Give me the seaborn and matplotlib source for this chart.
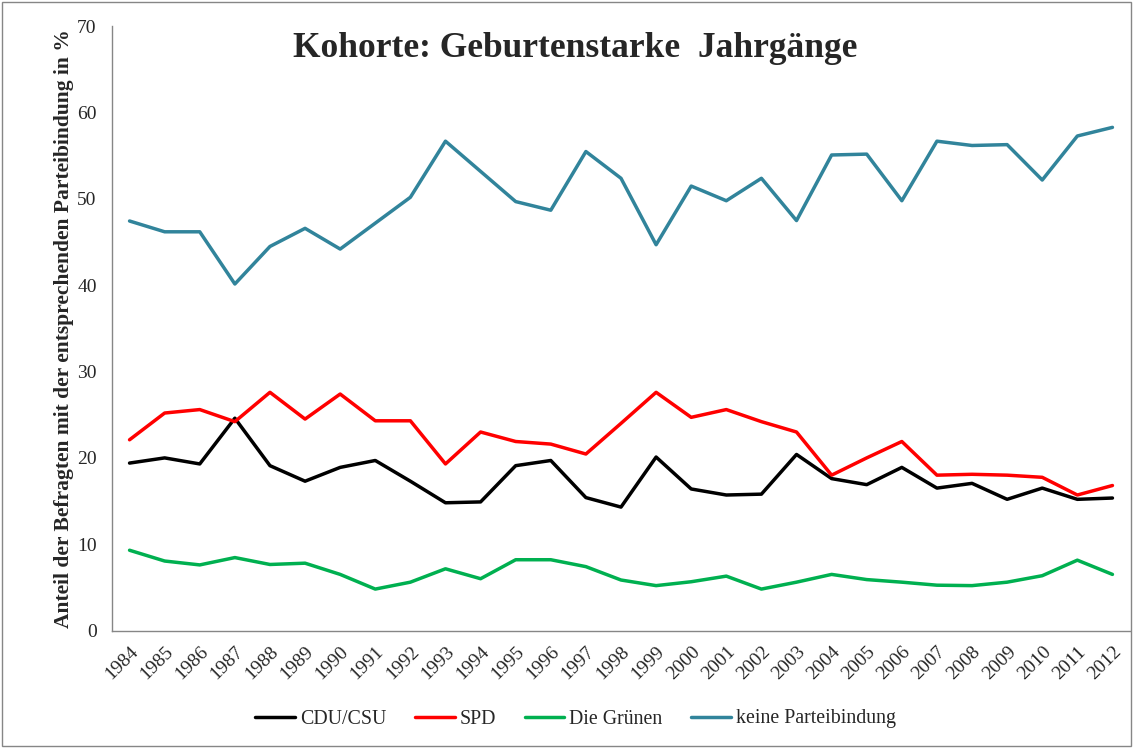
import numpy as np
import pandas as pd
import seaborn as sns
import matplotlib.pyplot as plt
from matplotlib.patches import Rectangle

# data
years = list(range(1984, 2013))
cdu = [19.4, 20.0, 19.3, 24.6, 19.1, 17.3, 18.9, 19.7, 17.3, 14.8, 14.9, 19.1, 19.7, 15.4,
       14.3, 20.1, 16.4, 15.7, 15.8, 20.4, 17.6, 16.9, 18.9, 16.5, 17.05, 15.2, 16.5, 15.2, 15.35]
spd = [22.1, 25.2, 25.6, 24.2, 27.6, 24.5, 27.4, 24.3, 24.3, 19.3, 23.0, 21.9, 21.6, 20.45,
       24.0, 27.6, 24.7, 25.6, 24.2, 23.0, 18.0, 20.0, 21.9, 18.0, 18.1, 18.0, 17.75, 15.7, 16.8]
gruene = [9.3, 8.05, 7.6, 8.45, 7.65, 7.8, 6.5, 4.8, 5.6, 7.15, 6.0, 8.2, 8.2, 7.4,
          5.85, 5.2, 5.65, 6.3, 4.8, 5.6, 6.5, 5.9, 5.6, 5.25, 5.2, 5.6, 6.35, 8.15, 6.5]
keine = [47.45, 46.2, 46.2, 40.15, 44.5, 46.6, 44.2, 47.2, 50.2, 56.7, 53.2, 49.7, 48.7, 55.5,
         52.4, 44.7, 51.5, 49.8, 52.4, 47.5, 55.1, 55.2, 49.8, 56.7, 56.2, 56.3, 52.2, 57.3, 58.3]

series = ['CDU/CSU', 'SPD', 'Die Grünen', 'keine Parteibindung']
colors = ['#000000', '#FF0000', '#00B050', '#31849B']

df = pd.DataFrame({'Jahr': years * 4,
                   'Wert': cdu + spd + gruene + keine,
                   'Partei': [s for s in series for _ in years]})

sns.set_style('white')
plt.rcParams['font.family'] = ['Liberation Serif', 'DejaVu Serif']

fig = plt.figure(figsize=(11.33, 7.48), dpi=100)
ax = fig.add_axes([112 / 1133, 1 - 630.5 / 748, 1018 / 1133, (630.5 - 26.4) / 748])

sns.lineplot(data=df, x='Jahr', y='Wert', hue='Partei', hue_order=series,
             palette=colors, linewidth=2.5, ax=ax, legend=True)

ax.set_xlim(1983.5, 2012.5)
ax.set_ylim(0, 70)
ax.set_yticks(range(0, 71, 10))
ax.set_xticks(years)
ax.set_xticklabels([str(y) for y in years], rotation=45, ha='right', rotation_mode='anchor')
ax.set_xticks(np.arange(1983.5, 2013, 1), minor=True)
ax.tick_params(axis='x', which='major', length=0, labelsize=14, pad=9)
ax.tick_params(axis='x', which='minor', length=5, color='#868686', width=1, direction='out')
ax.tick_params(axis='y', length=5, color='#868686', width=1, direction='out', labelsize=14, pad=6)
ax.set_xlabel('')
ax.set_ylabel('Anteil der Befragten mit der entsprechenden Parteibindung in %',
              fontsize=15.5, fontweight='bold', labelpad=2)
sns.despine(ax=ax)
for s in ['left', 'bottom']:
    ax.spines[s].set_color('#868686')
    ax.spines[s].set_linewidth(1)

ax.text(0.455, 0.99, 'Kohorte: Geburtenstarke  Jahrgänge', transform=ax.transAxes,
        ha='center', va='top', fontsize=25.5, fontweight='bold')

handles, labels = ax.get_legend_handles_labels()
ax.get_legend().remove()
fig.legend(handles, labels, loc='center', bbox_to_anchor=(0.508, 1 - 719 / 748), ncol=4,
           frameon=False, fontsize=14.3, handlelength=2.0, handletextpad=0.25, columnspacing=1.45)

fig.add_artist(Rectangle((0.002, 0.003), 0.996, 0.994, transform=fig.transFigure,
                         fill=False, edgecolor='#868686', linewidth=1))

fig.savefig('out.png', dpi=100)
